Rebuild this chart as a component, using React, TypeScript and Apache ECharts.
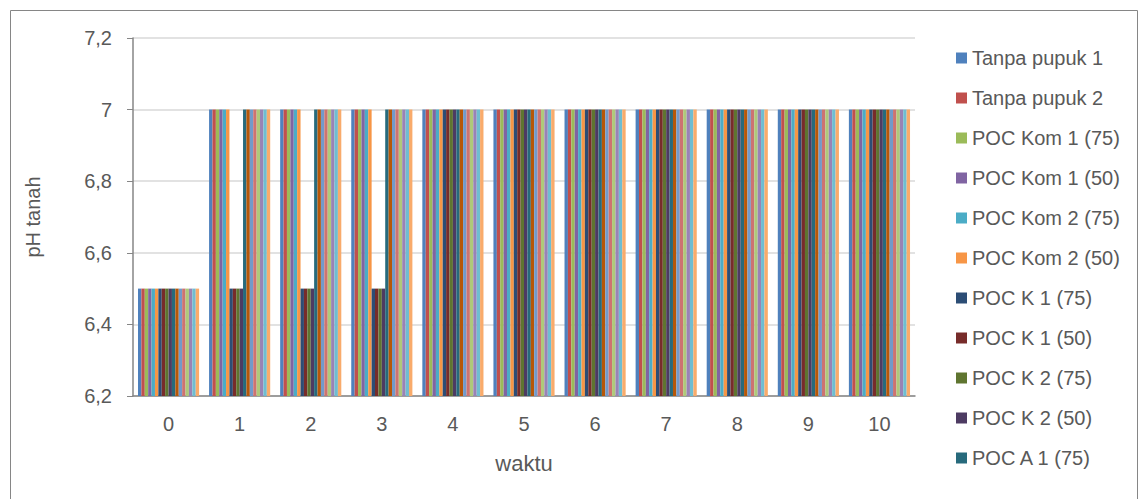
import React, { useEffect, useRef } from "react";
import * as echarts from "echarts";

const categories = ["0", "1", "2", "3", "4", "5", "6", "7", "8", "9", "10"];

const seriesNames = [
  "Tanpa pupuk 1",
  "Tanpa pupuk 2",
  "POC Kom 1 (75)",
  "POC Kom 1 (50)",
  "POC Kom 2 (75)",
  "POC Kom 2 (50)",
  "POC K 1 (75)",
  "POC K 1 (50)",
  "POC K 2 (75)",
  "POC K 2 (50)",
  "POC A 1 (75)",
  "POC A 1 (50)",
  "POC A 2 (75)",
  "POC A 2 (50)",
  "POC B 1 (75)",
  "POC B 1 (50)",
  "POC B 2 (75)",
  "POC B 2 (50)",
];

const visibleLegend = seriesNames.slice(0, 11);

const colors = [
  "#4F81BD", "#C0504D", "#9BBB59", "#8064A2", "#4BACC6", "#F79646",
  "#2C4D75", "#772C2A", "#5F7530", "#4D3B62", "#276A7C", "#B65708",
  "#729ACA", "#CD7371", "#AFC97A", "#9983B5", "#6FBDD1", "#F9AB6B",
];

// pH values per series over waktu 0..10
const valuesGroupA = [6.5, 7, 7, 7, 7, 7, 7, 7, 7, 7, 7]; // series 1-6, 11-18
const valuesGroupB = [6.5, 6.5, 6.5, 6.5, 7, 7, 7, 7, 7, 7, 7]; // POC K series

const seriesValues: number[][] = seriesNames.map((_, i) =>
  i >= 6 && i <= 9 ? valuesGroupB : valuesGroupA
);

const yTicks = { min: 6.2, max: 7.2, interval: 0.2 };

const TEXT = "#595959";
const FONT = "'Liberation Sans', Arial, sans-serif";

export default function App() {
  const ref = useRef<HTMLDivElement>(null);
  useEffect(() => {
    if (!ref.current) return;
    const chart = echarts.init(ref.current, undefined, { renderer: "svg" });
    chart.setOption({
      animation: false,
      color: colors,
      textStyle: { fontFamily: FONT, color: TEXT },
      graphic: [
        {
          type: "rect",
          shape: { x: 10.5, y: 10.5, width: 1127, height: 520 },
          style: { fill: "none", stroke: "#868686", lineWidth: 1 },
          silent: true,
        },
      ],
      grid: { left: 133, top: 38, width: 782, height: 358, containLabel: false },
      legend: {
        data: visibleLegend,
        orient: "vertical",
        left: 951,
        top: 42,
        itemWidth: 11,
        itemHeight: 11,
        itemGap: 18,
        icon: "rect",
        textStyle: { fontSize: 20, color: TEXT, fontFamily: FONT, lineHeight: 22 },
      },
      xAxis: {
        type: "category",
        data: categories,
        name: "waktu",
        nameLocation: "middle",
        nameGap: 56,
        nameTextStyle: { fontSize: 22, color: TEXT, fontFamily: FONT },
        axisLine: { show: true, lineStyle: { color: "#868686", width: 1.5 } },
        axisTick: { show: false },
        axisLabel: { fontSize: 20, color: TEXT, fontFamily: FONT, margin: 18 },
      },
      yAxis: {
        type: "value",
        min: yTicks.min,
        max: yTicks.max,
        interval: yTicks.interval,
        name: "pH tanah",
        nameLocation: "middle",
        nameGap: 90,
        nameRotate: 90,
        nameTextStyle: { fontSize: 20, color: TEXT, fontFamily: FONT },
        axisLine: { show: true, lineStyle: { color: "#868686", width: 1.5 } },
        axisTick: { show: true, length: 6, lineStyle: { color: "#868686" } },
        splitLine: { show: true, lineStyle: { color: "#D9D9D9", width: 1.5 } },
        axisLabel: {
          fontSize: 20,
          color: TEXT,
          fontFamily: FONT,
          margin: 21,
          formatter: (v: number) => String(Number(v.toFixed(1))).replace(".", ","),
        },
      },
      series: seriesNames.map((name, i) => ({
        name,
        type: "bar",
        data: seriesValues[i],
        barGap: "0%",
        barCategoryGap: "14%",
        itemStyle: { color: colors[i] },
      })),
    });
    return () => chart.dispose();
  }, []);
  return (
    <div
      ref={ref}
      style={{ position: "fixed", left: 0, top: 0, width: 1148, height: 499, background: "#fff" }}
    />
  );
}
